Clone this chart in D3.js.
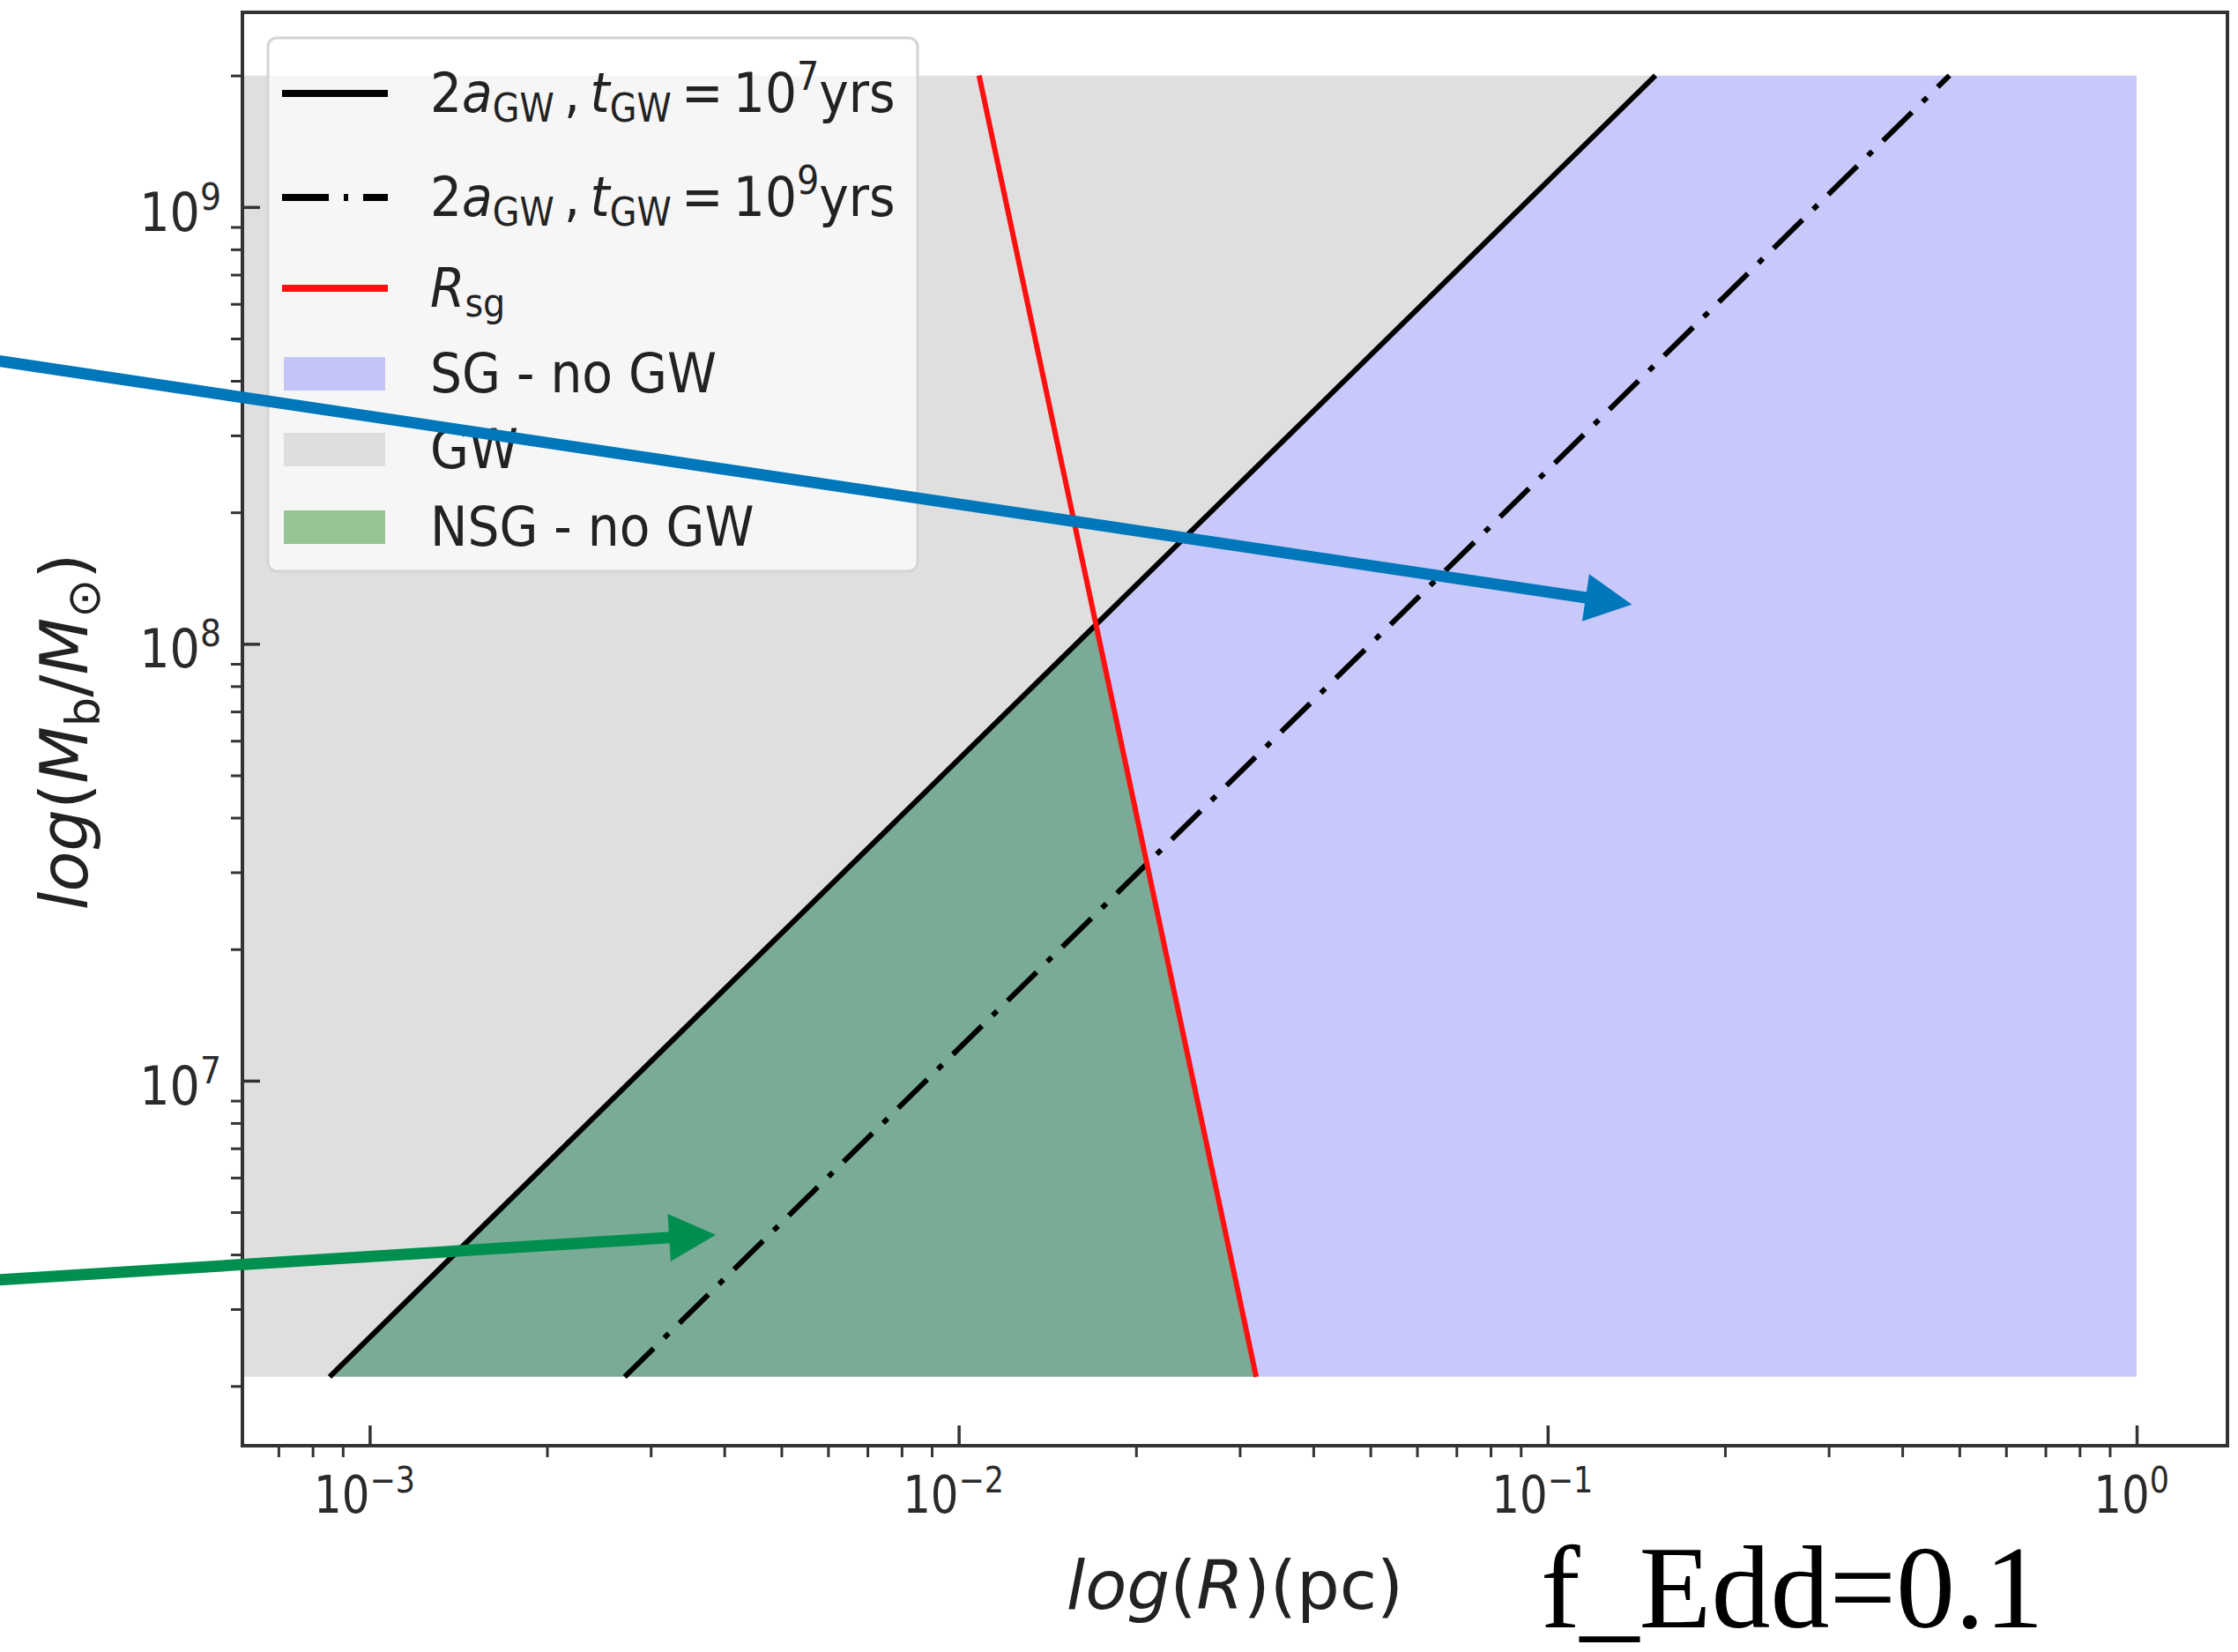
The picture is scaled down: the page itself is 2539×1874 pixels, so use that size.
<!DOCTYPE html>
<html>
<head>
<meta charset="utf-8">
<script src="https://cdn.jsdelivr.net/npm/d3@7"></script>
<style>
  body { margin: 0; background: #fff; }
  svg { display: block; }
</style>
</head>
<body>
<div class="chart"></div>
<script>
let width = 2539;
let height = 1874;

// values (R in pc, M in solar masses)
let massRange = [2.1e6, 2e9];        // bottom and top of the shaded region
let aGW7 = [8.55e-4, 0.1524];        // 2a_GW for t_GW = 1e7 yrs, at massRange
let aGW9 = [2.71e-3, 0.481];         // 2a_GW for t_GW = 1e9 yrs
let rSG = [0.0320, 0.01083];         // R_sg
let rMax = 1.0;                      // right edge of the shaded region
let xDomain = [6.08e-4, 1.426];
let yDomain = [1.46e6, 2.79e9];

let legendNames = [
  [['2', ''], ['a', 'i'], ['GW', 'sub'], ['\u2009,\u2009', ''], ['t', 'i'], ['GW', 'sub'], ['\u2009=\u200910', ''], ['7', 'sup'], ['yrs', '']],
  [['2', ''], ['a', 'i'], ['GW', 'sub'], ['\u2009,\u2009', ''], ['t', 'i'], ['GW', 'sub'], ['\u2009=\u200910', ''], ['9', 'sup'], ['yrs', '']],
  [['R', 'i'], ['sg', 'sub']],
  [['SG - no GW', '']],
  [['GW', '']],
  [['NSG - no GW', '']]
];
let xTitle = [['log', 'i'], ['(', ''], ['R', 'i'], [')(pc)', '']];
let yTitle = [['log', 'i'], ['(', ''], ['M', 'i'], ['b', 'sub'], ['/', ''], ['M', 'i'], ['\u2299', 'sub'], [')', '']];
let noteText = 'f_Edd=0.1';

// annotation arrows, in data coordinates [R, M]
let arrowTails = [[2.35e-4, 4.44e8], [2.35e-4, 3.50e6]];
let arrowTips = [[0.139, 1.23e8], [3.87e-3, 4.44e6]];

let colGray = '#dfdfdf';
let colBlue = '#c8c8fb';
let colGreen = '#79ab96';
let arrowColors = ['#0077bb', '#008f4f'];

let padL = 275, padR = 2527, padT = 14, padB = 1640;

let svg = d3.select('.chart')
            .append('svg')
            .attr('width', width)
            .attr('height', height)
            .style('font-family', '"DejaVu Sans", sans-serif');

let x = d3.scaleLog().domain(xDomain).range([padL, padR]);
let y = d3.scaleLog().domain(yDomain).range([padB, padT]);

// writes mathtext-like tokens into a text element
function writeTokens(textSel, tokens, base) {
  let shift = 0;
  tokens.forEach(t => {
    let want = t[1] === 'sub' ? 0.18 : (t[1] === 'sup' ? -0.4 : 0);
    let ts = textSel.append('tspan').text(t[0]);
    if (t[1] === 'i') ts.style('font-style', 'italic');
    if (t[1] === 'sub' || t[1] === 'sup') ts.style('font-size', (base * 0.7) + 'px');
    if (want !== shift) ts.attr('dy', ((want - shift) * base) + 'px');
    shift = want;
  });
}

svg.append('clipPath').attr('id', 'plotClip')
   .append('rect').attr('x', padL).attr('y', padT)
   .attr('width', padR - padL).attr('height', padB - padT);

let plot = svg.append('g').attr('clip-path', 'url(#plotClip)');

// intersection of the t_GW=1e7 line and R_sg, in log space
let lm0 = Math.log10(massRange[0]), lm1 = Math.log10(massRange[1]);
let b0 = Math.log10(aGW7[0]), b1 = Math.log10(aGW7[1]);
let r0 = Math.log10(rSG[0]), r1 = Math.log10(rSG[1]);
let u = (r0 - b0) / ((b1 - b0) - (r1 - r0));
let cross = [Math.pow(10, b0 + u * (b1 - b0)), Math.pow(10, lm0 + u * (lm1 - lm0))];

let area = d3.line().x(d => x(d[0])).y(d => y(d[1]));

let grayPoly = [[xDomain[0], massRange[0]], [aGW7[0], massRange[0]], [aGW7[1], massRange[1]], [xDomain[0], massRange[1]]];
let bluePoly = [[rSG[0], massRange[0]], [rMax, massRange[0]], [rMax, massRange[1]], [aGW7[1], massRange[1]], cross];
let greenPoly = [[aGW7[0], massRange[0]], [rSG[0], massRange[0]], cross];

plot.append('path').attr('d', area(grayPoly) + 'Z').attr('fill', colGray);
plot.append('path').attr('d', area(bluePoly) + 'Z').attr('fill', colBlue);
plot.append('path').attr('d', area(greenPoly) + 'Z').attr('fill', colGreen);

let lineOf = arr => area(arr.map((r, i) => [r, massRange[i]]));
plot.append('path').attr('d', lineOf(aGW7))
    .attr('fill', 'none').attr('stroke', '#000').attr('stroke-width', 6);
plot.append('path').attr('d', lineOf(aGW9))
    .attr('fill', 'none').attr('stroke', '#000').attr('stroke-width', 6)
    .attr('stroke-dasharray', '46,17,7,17');
plot.append('path').attr('d', lineOf(rSG))
    .attr('fill', 'none').attr('stroke', '#ff1010').attr('stroke-width', 6);

// axes: minor ticks outward, major ticks inward
let isMajor = d => Math.abs(Math.log10(d) - Math.round(Math.log10(d))) < 1e-6;
let xMajor = x.ticks().filter(isMajor), xMinor = x.ticks().filter(d => !isMajor(d));
let yMajor = y.ticks().filter(isMajor), yMinor = y.ticks().filter(d => !isMajor(d));

function styleAxis(g, w) {
  g.select('.domain').remove();
  g.selectAll('line').attr('stroke', '#333').attr('stroke-width', w);
}
svg.append('g').attr('transform', 'translate(0,' + padB + ')')
   .call(d3.axisBottom(x).tickValues(xMinor).tickSize(13).tickFormat(''))
   .call(g => styleAxis(g, 3));
svg.append('g').attr('transform', 'translate(0,' + padB + ')')
   .call(d3.axisBottom(x).tickValues(xMajor).tickSize(-23).tickFormat(''))
   .call(g => styleAxis(g, 3.5));
svg.append('g').attr('transform', 'translate(' + padL + ',0)')
   .call(d3.axisLeft(y).tickValues(yMinor).tickSize(13).tickFormat(''))
   .call(g => styleAxis(g, 3));
svg.append('g').attr('transform', 'translate(' + padL + ',0)')
   .call(d3.axisLeft(y).tickValues(yMajor).tickSize(-20).tickFormat(''))
   .call(g => styleAxis(g, 3.5));

let expo = d => Math.round(Math.log10(d)).toString().replace('-', '\u2212');

xMajor.forEach(d => {
  let g = svg.append('g').attr('transform', 'translate(' + (x(d) - 6) + ',' + (padB + 76) + ') scale(0.86,1)');
  let t = g.append('text').attr('text-anchor', 'middle').style('font-size', '58px').attr('fill', '#2a2a2a');
  writeTokens(t, [['10', ''], [expo(d), 'sup']], 58);
});
yMajor.forEach(d => {
  let g = svg.append('g').attr('transform', 'translate(' + (padL - 24) + ',' + (y(d) + 27) + ') scale(0.9,1)');
  let t = g.append('text').attr('text-anchor', 'end').style('font-size', '60px').attr('fill', '#2a2a2a');
  writeTokens(t, [['10', ''], [expo(d), 'sup']], 60);
});

// frame
svg.append('rect').attr('x', padL).attr('y', padT)
   .attr('width', padR - padL).attr('height', padB - padT)
   .attr('fill', 'none').attr('stroke', '#333').attr('stroke-width', 4);

// axis titles
let xt = svg.append('text').attr('x', (padL + padR) / 2).attr('y', 1825)
            .attr('text-anchor', 'middle').style('font-size', '77px').attr('fill', '#222');
writeTokens(xt, xTitle, 77);
let yt = svg.append('text').attr('transform', 'translate(99,830) rotate(-90)')
            .attr('text-anchor', 'middle').style('font-size', '75px').attr('fill', '#222');
writeTokens(yt, yTitle, 75);

// legend
let legend = svg.append('g');
legend.append('rect').attr('x', 304).attr('y', 43).attr('width', 737).attr('height', 605)
      .attr('rx', 10).attr('fill', '#fff').attr('fill-opacity', 0.7)
      .attr('stroke', '#d4d4d4').attr('stroke-width', 3);
let rowY = [106, 224, 327, 424, 510, 598];
let handles = [
  {kind: 'line', color: '#000', dash: null},
  {kind: 'line', color: '#000', dash: '53,17,5,17'},
  {kind: 'line', color: '#ff1010', dash: null},
  {kind: 'patch', color: '#c4c4f6'},
  {kind: 'patch', color: '#dedede'},
  {kind: 'patch', color: '#97c493'}
];
handles.forEach((h, i) => {
  if (h.kind === 'line') {
    legend.append('line').attr('x1', 320).attr('x2', 440).attr('y1', rowY[i]).attr('y2', rowY[i])
          .attr('stroke', h.color).attr('stroke-width', 8)
          .attr('stroke-dasharray', h.dash);
  } else {
    legend.append('rect').attr('x', 322).attr('y', rowY[i] - 19).attr('width', 115).attr('height', 38)
          .attr('fill', h.color);
  }
  let g = legend.append('g').attr('transform', 'translate(488,' + (rowY[i] + 21) + ') scale(0.9,1)');
  let t = g.append('text').style('font-size', '63px').attr('fill', '#222');
  writeTokens(t, legendNames[i], 63);
});

// note
svg.append('text').attr('x', 1748).attr('y', 1846)
   .style('font-family', '"Liberation Serif", "Times New Roman", serif')
   .style('font-size', '134px').attr('fill', '#000')
   .text(noteText);

// arrows
arrowTips.forEach((tip, i) => {
  let tx = x(tip[0]), ty = y(tip[1]);
  let sx = x(arrowTails[i][0]), sy = y(arrowTails[i][1]);
  let len = Math.hypot(tx - sx, ty - sy);
  let ux = (tx - sx) / len, uy = (ty - sy) / len;
  let hl = 53, hw = 27;
  let bx = tx - ux * hl, by = ty - uy * hl;
  svg.append('line').attr('x1', sx).attr('y1', sy).attr('x2', bx + ux * 2).attr('y2', by + uy * 2)
     .attr('stroke', arrowColors[i]).attr('stroke-width', 13);
  svg.append('path')
     .attr('d', 'M' + tx + ',' + ty + 'L' + (bx - uy * hw) + ',' + (by + ux * hw) +
                'L' + (bx + uy * hw) + ',' + (by - ux * hw) + 'Z')
     .attr('fill', arrowColors[i]);
});
</script>
</body>
</html>
